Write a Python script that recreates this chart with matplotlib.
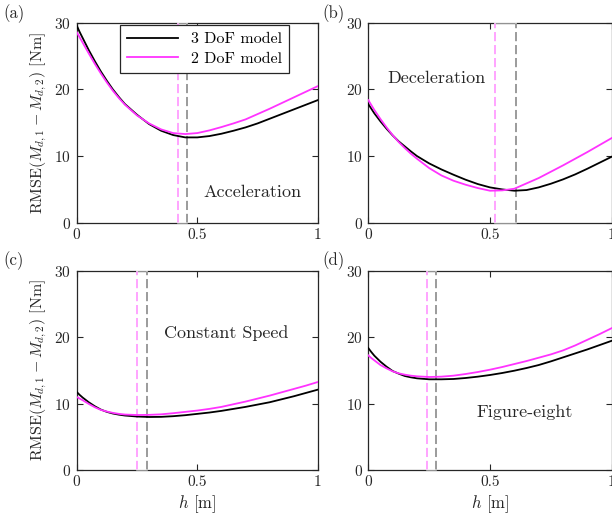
import matplotlib
matplotlib.use("Agg")
import matplotlib.pyplot as plt
import numpy as np

plt.rcParams['font.family'] = 'cmr10'
plt.rcParams['mathtext.fontset'] = 'cm'
plt.rcParams['axes.unicode_minus'] = False
plt.rcParams['axes.formatter.use_mathtext'] = True

# sample points of h [m]
h = [0, 0.0125, 0.025, 0.05, 0.075, 0.1, 0.125, 0.15, 0.175, 0.2, 0.25, 0.3, 0.35,
     0.4, 0.45, 0.5, 0.55, 0.6, 0.65, 0.7, 0.75, 0.8, 0.85, 0.9, 0.95, 1.0]

# RMSE [Nm] per manoeuvre, 3 DoF and 2 DoF models
acc_3dof = [29.6, 28.6, 27.7, 25.9, 24.25, 22.7, 21.3, 20.0, 18.85, 17.8, 16.2, 14.8, 13.8,
            13.15, 12.8, 12.8, 13.0, 13.35, 13.8, 14.3, 14.9, 15.6, 16.3, 17.0, 17.7, 18.4]
acc_2dof = [28.6, 27.8, 27.0, 25.4, 23.85, 22.4, 21.05, 19.8, 18.7, 17.7, 16.1, 14.9, 14.0,
            13.45, 13.3, 13.45, 13.85, 14.35, 14.9, 15.5, 16.3, 17.1, 17.95, 18.8, 19.65, 20.5]
dec_3dof = [17.8, 17.1, 16.4, 15.2, 14.1, 13.1, 12.2, 11.45, 10.7, 10.0, 8.9, 8.0, 7.2,
            6.45, 5.8, 5.3, 5.0, 4.8, 4.9, 5.3, 5.85, 6.5, 7.25, 8.1, 9.0, 9.9]
dec_2dof = [18.4, 17.65, 16.9, 15.55, 14.3, 13.15, 12.1, 11.2, 10.35, 9.6, 8.2, 7.1, 6.3,
            5.7, 5.2, 4.8, 4.85, 5.1, 5.9, 6.7, 7.65, 8.6, 9.6, 10.6, 11.65, 12.7]
cst_3dof = [11.75, 11.3, 10.9, 10.2, 9.6, 9.1, 8.75, 8.5, 8.33, 8.2, 8.05, 7.98, 8.0,
            8.1, 8.25, 8.45, 8.65, 8.9, 9.2, 9.5, 9.85, 10.2, 10.65, 11.1, 11.6, 12.1]
cst_2dof = [11.0, 10.75, 10.5, 9.95, 9.45, 9.05, 8.8, 8.6, 8.45, 8.35, 8.28, 8.3, 8.38,
            8.55, 8.75, 8.95, 9.2, 9.5, 9.9, 10.3, 10.75, 11.2, 11.7, 12.2, 12.7, 13.25]
fig8_3dof = [18.35, 17.75, 17.2, 16.3, 15.55, 14.9, 14.5, 14.15, 13.95, 13.8, 13.65, 13.65, 13.7,
             13.85, 14.05, 14.3, 14.6, 14.95, 15.35, 15.8, 16.35, 16.95, 17.55, 18.15, 18.8, 19.45]
fig8_2dof = [17.25, 16.85, 16.5, 15.8, 15.3, 14.85, 14.55, 14.35, 14.2, 14.1, 14.0, 14.05, 14.2,
             14.45, 14.75, 15.1, 15.5, 15.95, 16.4, 16.9, 17.4, 18.0, 18.75, 19.6, 20.45, 21.35]

# optimal h (location of the minimum) for each model
hopt_3dof = [0.459, 0.607, 0.29, 0.278]
hopt_2dof = [0.421, 0.519, 0.249, 0.241]

titles = ['Acceleration', 'Deceleration', 'Constant Speed', 'Figure-eight']
letters = ['(a)', '(b)', '(c)', '(d)']
text_pos = [(0.728, 4.5), (0.28, 21.7), (0.62, 20.6), (0.642, 8.7)]

data3 = [acc_3dof, dec_3dof, cst_3dof, fig8_3dof]
data2 = [acc_2dof, dec_2dof, cst_2dof, fig8_2dof]

MAG = '#ff33ff'
MAG_LIGHT = '#ff8cff'
GREY = '#808080'
AXC = '#262626'

fig = plt.figure(figsize=(6.12, 5.17), dpi=100)
rects = [[0.1253, 0.5692, 0.3942, 0.3868],
         [0.6018, 0.5692, 0.3977, 0.3868],
         [0.1253, 0.0909, 0.3942, 0.3855],
         [0.6018, 0.0909, 0.3977, 0.3855]]
letter_xy = [(0.005, 0.965), (0.526, 0.965), (0.005, 0.487), (0.526, 0.487)]

for i in range(4):
    ax = fig.add_axes(rects[i])
    l3, = ax.plot(h, data3[i], color='black', lw=1.3, zorder=4, label='3 DoF model')
    l2, = ax.plot(h, data2[i], color=MAG, lw=1.3, zorder=4, label='2 DoF model')
    ax.axvline(hopt_2dof[i], color=MAG_LIGHT, lw=1.1, dashes=(6, 2.5), zorder=3)
    ax.axvline(hopt_3dof[i], color=GREY, lw=1.1, dashes=(6, 2.5), zorder=3)
    # lighten the box edge between the two optima
    for yy in (0, 30):
        ax.plot([hopt_2dof[i], hopt_3dof[i]], [yy, yy], color='white', lw=1.2,
                alpha=0.6, clip_on=False, zorder=5)

    ax.set_xlim(0, 1)
    ax.set_ylim(0, 30)
    ax.set_xticks([0, 0.5, 1])
    ax.set_xticklabels(['0', '0.5', '1'])
    ax.set_yticks([0, 10, 20, 30])
    ax.tick_params(direction='in', top=True, right=True, length=4, width=0.8,
                   labelsize=11, colors=AXC, pad=4)
    for s in ax.spines.values():
        s.set_color(AXC)
        s.set_linewidth(0.9)

    ax.text(text_pos[i][0], text_pos[i][1], titles[i], ha='center', va='center',
            fontsize=13, color=AXC)
    fig.text(letter_xy[i][0], letter_xy[i][1], letters[i], fontsize=12, color=AXC)

    if i % 2 == 0:
        ax.set_ylabel(r'RMSE$(M_{d,1} - M_{d,2})$ [Nm]', fontsize=11.5, color=AXC,
                      labelpad=4)
    if i >= 2:
        ax.set_xlabel(r'$h$ [m]', fontsize=12, color=AXC, labelpad=3)
    if i == 0:
        leg = ax.legend(handles=[l3, l2], loc='upper right', bbox_to_anchor=(0.88, 0.99),
                        borderaxespad=0, fontsize=11.5, handlelength=3.2, frameon=True,
                        fancybox=False, edgecolor=AXC, framealpha=1, borderpad=0.45,
                        labelspacing=0.35, handletextpad=0.8)
        leg.get_frame().set_linewidth(0.9)

fig.savefig('out.png', dpi=100)
